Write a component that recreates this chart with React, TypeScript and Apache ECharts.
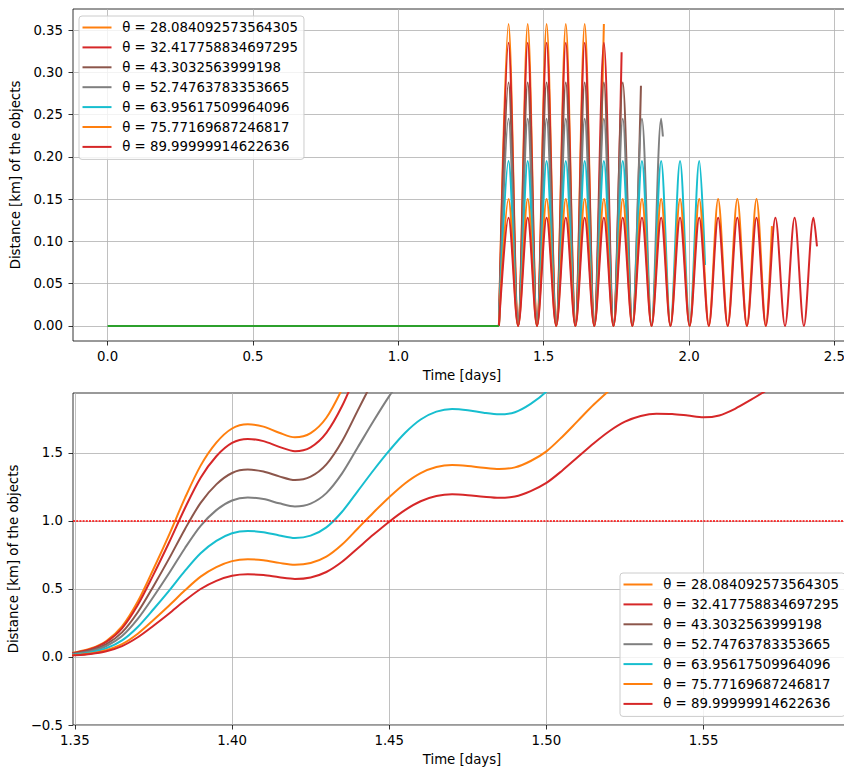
import React, { useEffect, useRef } from 'react';
import * as echarts from 'echarts';

const names = [
  'θ = 28.084092573564305',
  'θ = 32.417758834697295',
  'θ = 43.3032563999198',
  'θ = 52.74763783353665',
  'θ = 63.95617509964096',
  'θ = 75.77169687246817',
  'θ = 89.99999914622636',
];
const colors = ['#ff7f0e', '#d62728', '#8c564b', '#7f7f7f', '#17becf', '#ff7f0e', '#d62728'];

// ---------- top panel ----------
const preTimes = [0, 1.346];
const preValues = [0, 0];

const topTimes = [
  1.346, 1.379, 1.412, 1.445, 1.477, 1.51, 1.543, 1.576, 1.609, 1.641, 1.674, 1.707,
  1.74, 1.772, 1.805, 1.838, 1.871, 1.904, 1.936, 1.969, 2.002, 2.035, 2.068, 2.1,
  2.133, 2.166, 2.199, 2.232, 2.264, 2.297, 2.33, 2.363, 2.395, 2.428,
];
const top28 = [0, 0.357, 0, 0.357, 0, 0.357, 0, 0.357, 0, 0.357, 0, 0.357];
const top32 = [0, 0.335, 0, 0.335, 0, 0.335, 0, 0.335, 0, 0.335, 0, 0.335, 0];
const top43 = [0, 0.288, 0, 0.288, 0, 0.288, 0, 0.288, 0, 0.288, 0, 0.288, 0, 0.288, 0];
const top52 = [0, 0.245, 0, 0.245, 0, 0.245, 0, 0.245, 0, 0.245, 0, 0.245, 0, 0.245, 0, 0.245, 0, 0.245];
const top63 = [0, 0.195, 0, 0.195, 0, 0.195, 0, 0.195, 0, 0.195, 0, 0.195, 0, 0.195, 0, 0.195, 0, 0.195, 0, 0.195, 0, 0.195];
const top75 = [0, 0.15, 0, 0.15, 0, 0.15, 0, 0.15, 0, 0.15, 0, 0.15, 0, 0.15, 0, 0.15, 0, 0.15, 0, 0.15, 0, 0.15, 0, 0.15, 0, 0.15, 0, 0.15, 0];
const top90 = [0, 0.128, 0, 0.128, 0, 0.128, 0, 0.128, 0, 0.128, 0, 0.128, 0, 0.128, 0, 0.128, 0, 0.128, 0, 0.128, 0, 0.128, 0, 0.128, 0, 0.128, 0, 0.128, 0, 0.128, 0, 0.128, 0, 0.128];
const topEndTimes = [null, 1.768, 1.8345, 1.91, 2.055, 2.285, 2.44];
const topEndValues = [null, 0.3236, 0.284, 0.224, 0.072, 0.118, 0.094];

// ---------- bottom panel ----------
const bottomTimes = [
  1.345, 1.35, 1.355, 1.36, 1.365, 1.37, 1.375, 1.38, 1.385, 1.39, 1.395, 1.4, 1.405, 1.41,
  1.415, 1.42, 1.425, 1.43, 1.435, 1.44, 1.445, 1.45, 1.455, 1.46, 1.465, 1.47, 1.475, 1.48,
  1.485, 1.49, 1.495, 1.5, 1.505, 1.51, 1.515, 1.52, 1.525, 1.53, 1.535, 1.54, 1.545, 1.55,
  1.555, 1.56, 1.565, 1.57,
];
const bot28 = [0.012, 0.034, 0.062, 0.118, 0.225, 0.408, 0.647, 0.9, 1.168, 1.407, 1.576, 1.68, 1.711, 1.694, 1.649, 1.615, 1.646, 1.759, 1.97];
const bot32 = [0.011, 0.032, 0.058, 0.111, 0.211, 0.382, 0.606, 0.844, 1.094, 1.318, 1.476, 1.574, 1.603, 1.587, 1.545, 1.513, 1.542, 1.648, 1.845, 2.11];
const bot43 = [0.01, 0.027, 0.05, 0.095, 0.181, 0.329, 0.521, 0.725, 0.94, 1.133, 1.269, 1.353, 1.378, 1.364, 1.328, 1.301, 1.326, 1.416, 1.586, 1.813, 2.04];
const bot52 = [0.009, 0.023, 0.042, 0.081, 0.154, 0.28, 0.443, 0.617, 0.8, 0.964, 1.08, 1.151, 1.172, 1.161, 1.13, 1.107, 1.128, 1.205, 1.35, 1.542, 1.735, 1.918, 2.08];
const bot63 = [0.008, 0.018, 0.034, 0.064, 0.122, 0.221, 0.351, 0.488, 0.633, 0.763, 0.854, 0.91, 0.927, 0.918, 0.894, 0.875, 0.892, 0.953, 1.068, 1.22, 1.373, 1.517, 1.647, 1.746, 1.804, 1.824, 1.815, 1.796, 1.784, 1.8, 1.861, 1.952, 2.09];
const bot75 = [0.007, 0.014, 0.026, 0.05, 0.094, 0.171, 0.272, 0.378, 0.49, 0.591, 0.661, 0.705, 0.718, 0.711, 0.692, 0.678, 0.691, 0.738, 0.827, 0.945, 1.063, 1.175, 1.276, 1.352, 1.397, 1.412, 1.405, 1.391, 1.382, 1.394, 1.441, 1.512, 1.618, 1.736, 1.854, 1.96];
const bot90 = [0.006, 0.012, 0.022, 0.042, 0.08, 0.145, 0.23, 0.32, 0.415, 0.5, 0.56, 0.597, 0.608, 0.602, 0.586, 0.574, 0.585, 0.625, 0.7, 0.8, 0.9, 0.995, 1.08, 1.145, 1.183, 1.196, 1.19, 1.178, 1.17, 1.18, 1.22, 1.28, 1.37, 1.47, 1.57, 1.66, 1.73, 1.772, 1.789, 1.787, 1.775, 1.762, 1.776, 1.825, 1.89, 1.96];
const thresholdValue = 1.0;

// ---------- ticks ----------
const topXTicks = [0, 0.5, 1.0, 1.5, 2.0, 2.5];
const topYTicks = [0, 0.05, 0.1, 0.15, 0.2, 0.25, 0.3, 0.35];
const botXTicks = [1.35, 1.4, 1.45, 1.5, 1.55];
const botYTicks = [-0.5, 0, 0.5, 1.0, 1.5];

const FONT = 'DejaVu Sans';
const FS = 13.3;

function buildOption() {
  const topValues = [top28, top32, top43, top52, top63, top75, top90];
  const botValues = [bot28, bot32, bot43, bot52, bot63, bot75, bot90];

  const textStyle = { color: '#000', fontFamily: FONT, fontSize: FS };

  const axisCommon = (ticks: number[], fmt: (v: number) => string, margin: number) => ({
    type: 'value',
    axisLine: { show: false, onZero: false },
    axisTick: { show: true, customValues: ticks, length: 4.5, lineStyle: { color: '#000', width: 0.8 } },
    axisLabel: { customValues: ticks, formatter: fmt, margin, ...textStyle },
    splitLine: { show: true, lineStyle: { color: '#b0b0b0', width: 0.8 } },
    nameLocation: 'middle',
    nameTextStyle: textStyle,
  });

  const series: any[] = [];
  topValues.forEach((vals, i) => {
    const data = vals.map((v, k) => [topTimes[k], v]);
    if (topEndTimes[i] !== null) data.push([topEndTimes[i] as number, topEndValues[i] as number]);
    series.push({
      type: 'line', name: names[i], xAxisIndex: 0, yAxisIndex: 0, data,
      symbol: 'none', showSymbol: false, smooth: 0.33,
      lineStyle: { width: 2, color: colors[i] }, itemStyle: { color: colors[i] },
    });
  });
  series.push({
    type: 'line', name: 'pre', xAxisIndex: 0, yAxisIndex: 0,
    data: preTimes.map((t, k) => [t, preValues[k]]),
    symbol: 'none', showSymbol: false,
    lineStyle: { width: 2, color: '#2ca02c' }, itemStyle: { color: '#2ca02c' },
  });
  botValues.forEach((vals, i) => {
    const s: any = {
      type: 'line', name: names[i], xAxisIndex: 1, yAxisIndex: 1,
      data: vals.map((v, k) => [bottomTimes[k], v]),
      symbol: 'none', showSymbol: false, smooth: 0.3,
      lineStyle: { width: 2, color: colors[i] }, itemStyle: { color: colors[i] },
    };
    if (i === botValues.length - 1) {
      s.markLine = {
        silent: true, symbol: 'none', label: { show: false },
        lineStyle: { color: '#ff0000', type: [2, 1.2], width: 1.5 },
        data: [{ yAxis: thresholdValue }],
      };
    }
    series.push(s);
  });

  const legendCommon = {
    orient: 'vertical', data: names, icon: 'rect', itemWidth: 29, itemHeight: 2, itemGap: 6.9,
    padding: [5, 6, 6, 3.5], backgroundColor: 'rgba(255,255,255,0.8)', borderColor: '#cccccc',
    borderWidth: 1, borderRadius: 3, selectedMode: false,
    textStyle: { ...textStyle, padding: [0, 0, 0, 5.7] },
  };

  const gridCommon = {
    left: 73, width: 778, height: 332, show: true, borderColor: '#000', borderWidth: 0.8,
    backgroundColor: 'transparent', containLabel: false, outerBoundsMode: 'none',
  };

  return {
    animation: false,
    backgroundColor: '#ffffff',
    grid: [
      { ...gridCommon, top: 9 },
      { ...gridCommon, top: 393 },
    ],
    xAxis: [
      { ...axisCommon(topXTicks, (v: number) => v.toFixed(1), 9), gridIndex: 0, min: -0.119, max: 2.557, name: 'Time [days]', nameGap: 28 },
      { ...axisCommon(botXTicks, (v: number) => v.toFixed(2), 9), gridIndex: 1, min: 1.3494, max: 1.5969, name: 'Time [days]', nameGap: 28 },
    ],
    yAxis: [
      { ...axisCommon(topYTicks, (v: number) => v.toFixed(2), 10), gridIndex: 0, min: -0.01785, max: 0.37485, name: 'Distance [km] of the objects', nameGap: 42 },
      {
        ...axisCommon(botYTicks, (v: number) => (v < 0 ? '\u2212' + Math.abs(v).toFixed(1) : v.toFixed(1)), 10),
        gridIndex: 1, min: -0.5, max: 1.941, name: 'Distance [km] of the objects', nameGap: 44,
      },
    ],
    legend: [
      { ...legendCommon, left: 79, top: 16 },
      { ...legendCommon, left: 620, top: 573 },
    ],
    series,
  };
}

export default function App() {
  const ref = useRef<HTMLDivElement>(null);
  useEffect(() => {
    const chart = echarts.init(ref.current as HTMLDivElement, null, { renderer: 'svg' });
    chart.setOption(buildOption() as any);
    return () => chart.dispose();
  }, []);
  return (
    <div style={{ position: 'absolute', left: 0, top: 0, width: 844, height: 769, overflow: 'hidden', background: '#fff' }}>
      <div ref={ref} style={{ width: 870, height: 769 }} />
    </div>
  );
}
